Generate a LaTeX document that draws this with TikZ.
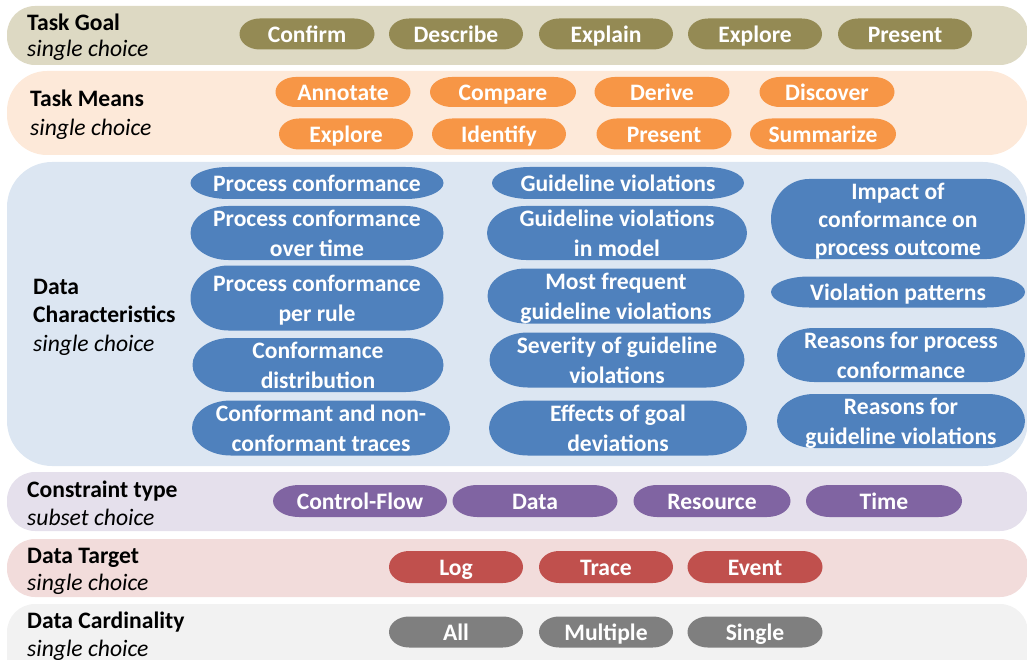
\documentclass[tikz,border=0pt]{standalone}
\usepackage{fontspec}
\setmainfont{Carlito}
\definecolor{goalband}{HTML}{DDD9C3}
\definecolor{goalpill}{HTML}{948A54}
\definecolor{meansband}{HTML}{FDE9D9}
\definecolor{meanspill}{HTML}{F79646}
\definecolor{dcband}{HTML}{DCE6F2}
\definecolor{dcpill}{HTML}{4F81BD}
\definecolor{ctband}{HTML}{E5E0EC}
\definecolor{ctpill}{HTML}{8064A2}
\definecolor{dtband}{HTML}{F2DCDB}
\definecolor{dtpill}{HTML}{C0504D}
\definecolor{cardband}{HTML}{F2F2F2}
\definecolor{cardpill}{HTML}{7F7F7F}
\newcommand\myfont{\fontsize{23.6}{28}\selectfont}
\newcommand\mystrut{\rule[-6pt]{0pt}{29pt}}
\tikzset{
  pilltext/.style={text=white, font=\myfont\bfseries, align=center, inner sep=0pt},
  labbold/.style={anchor=base west, inner sep=0pt, font=\myfont\bfseries, text=black},
  labit/.style={anchor=base west, inner sep=0pt, font=\myfont\itshape, text=black},
}
\newcommand\pillnode[7]{%
  \fill[#6] ({#2-#4/2+0.15*#4},{-#3+#5/2}) -- ({#2+#4/2-0.15*#4},{-#3+#5/2})
    arc[start angle=90,end angle=-90,x radius={0.15*#4pt},y radius={0.5*#5pt}]
    -- ({#2-#4/2+0.15*#4},{-#3-#5/2})
    arc[start angle=270,end angle=90,x radius={0.15*#4pt},y radius={0.5*#5pt}] -- cycle;
  \node[pilltext, minimum width=#4pt, minimum height=#5pt] (#1) at (#2,-#3) {\mystrut#7\mystrut};
}
\begin{document}
\begin{tikzpicture}[x=1pt,y=1pt]
\useasboundingbox (0,0) rectangle (1027,-660);
% bands
\fill[goalband, rounded corners=28pt] (7,-6) rectangle (1028,-65);
\fill[meansband, rounded corners=40pt] (7,-71) rectangle (1028,-155);
\fill[dcband, rounded corners=45pt] (7,-162) rectangle (1028,-466);
\fill[ctband, rounded corners=28pt] (7,-472) rectangle (1028,-531);
\fill[dtband, rounded corners=28pt] (7,-539) rectangle (1028,-597);
\fill[cardband, rounded corners=28pt] (7,-604) rectangle (1028,-690);
% labels
\node[labbold] (l1a) at (27,-31) {Task Goal};
\node[labit] (l1b) at (27,-57) {single choice};
\node[labbold] (l2a) at (30,-107) {Task Means};
\node[labit] (l2b) at (30,-136) {single choice};
\node[labbold] (l3a) at (33,-294) {Data};
\node[labbold] (l3b) at (33,-322) {Characteristics};
\node[labit] (l3c) at (33,-351) {single choice};
\node[labbold] (l4a) at (27,-497) {Constraint type};
\node[labit] (l4b) at (27,-525) {subset choice};
\node[labbold] (l5a) at (27,-563) {Data Target};
\node[labit] (l5b) at (27,-590) {single choice};
\node[labbold] (l6a) at (27,-628) {Data Cardinality};
\node[labit] (l6b) at (27,-656) {single choice};
% task goal
\pillnode{g1}{307}{34}{135}{31}{goalpill}{Confirm}
\pillnode{g2}{456}{34}{134}{31}{goalpill}{Describe}
\pillnode{g3}{606}{34}{134}{31}{goalpill}{Explain}
\pillnode{g4}{755}{34}{134}{31}{goalpill}{Explore}
\pillnode{g5}{905}{34}{134}{31}{goalpill}{Present}
% task means
\pillnode{m1}{343}{92}{135}{30}{meanspill}{Annotate}
\pillnode{m2}{503}{92}{146}{30}{meanspill}{Compare}
\pillnode{m3}{662}{92}{135}{30}{meanspill}{Derive}
\pillnode{m4}{827}{92}{135}{30}{meanspill}{Discover}
\pillnode{m5}{346}{134}{134}{31}{meanspill}{Explore}
\pillnode{m6}{499}{134}{134}{31}{meanspill}{Identify}
\pillnode{m7}{664}{134}{135}{31}{meanspill}{Present}
\pillnode{m8}{823}{134}{146}{31}{meanspill}{Summarize}
% data characteristics
\pillnode{d1}{317}{183}{253}{32}{dcpill}{Process conformance}
\pillnode{d2}{317}{233}{253}{54}{dcpill}{Process conformance\\over time}
\pillnode{d3}{317}{298}{253}{65}{dcpill}{Process conformance\\per rule}
\pillnode{d4}{318}{365}{251}{54}{dcpill}{Conformance\\distribution}
\pillnode{d5}{321}{428}{258}{55}{dcpill}{Conformant and non-\\conformant traces}
\pillnode{d6}{618}{183}{252}{32}{dcpill}{Guideline violations}
\pillnode{d7}{617}{233}{260}{54}{dcpill}{Guideline violations\\in model}
\pillnode{d8}{616}{296}{257}{55}{dcpill}{Most frequent\\guideline violations}
\pillnode{d9}{617}{360}{255}{55}{dcpill}{Severity of guideline\\violations}
\pillnode{d10}{618}{428}{258}{55}{dcpill}{Effects of goal\\deviations}
\pillnode{d11}{898}{219}{254}{80}{dcpill}{Impact of\\conformance on\\process outcome}
\pillnode{d12}{898}{292}{254}{31}{dcpill}{Violation patterns}
\pillnode{d13}{901}{355}{248}{54}{dcpill}{Reasons for process\\conformance}
\pillnode{d14}{901}{421}{248}{54}{dcpill}{Reasons for\\guideline violations}
% constraint type
\pillnode{c1}{360}{501}{174}{32}{ctpill}{Control-Flow}
\pillnode{c2}{535}{501}{165}{32}{ctpill}{Data}
\pillnode{c3}{712}{501}{157}{32}{ctpill}{Resource}
\pillnode{c4}{884}{501}{156}{32}{ctpill}{Time}
% data target
\pillnode{t1}{456}{567}{134}{32}{dtpill}{Log}
\pillnode{t2}{606}{567}{134}{32}{dtpill}{Trace}
\pillnode{t3}{755}{567}{135}{32}{dtpill}{Event}
% cardinality
\pillnode{k1}{456}{632}{134}{31}{cardpill}{All}
\pillnode{k2}{606}{632}{134}{31}{cardpill}{Multiple}
\pillnode{k3}{755}{632}{135}{31}{cardpill}{Single}
\end{tikzpicture}
\end{document}
